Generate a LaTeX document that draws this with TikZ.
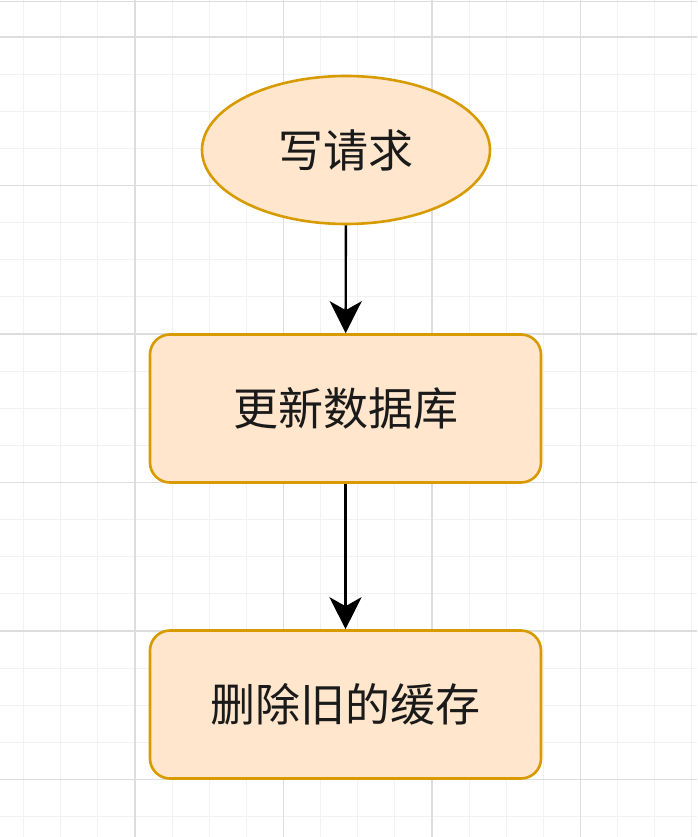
\documentclass[tikz,border=0pt]{standalone}
\usepackage{fontspec}
\newfontfamily\cjk{Noto Sans CJK SC}
\usetikzlibrary{shapes.geometric,arrows.meta}
\definecolor{boxfill}{HTML}{FFE6CC}
\definecolor{boxline}{HTML}{D79B00}
\definecolor{minorgrid}{HTML}{F2F2F2}
\definecolor{majorgrid}{HTML}{DDDDDD}
\definecolor{txt}{HTML}{1A1A1A}
\tikzset{
  flowtext/.style={font=\cjk\fontsize{45}{54}\selectfont, text=txt},
  startshape/.style={ellipse, draw=boxline, fill=boxfill, line width=2.6pt,
    minimum width=288pt, minimum height=148pt, inner sep=0pt, flowtext},
  stepbox/.style={rectangle, rounded corners=20pt, draw=boxline, fill=boxfill,
    line width=2.6pt, minimum width=391pt, minimum height=148pt, inner sep=0pt, flowtext},
  flowarrow/.style={line width=2.4pt, -{Stealth[length=32pt,width=32pt,inset=9pt]}}
}
\begin{document}
\begin{tikzpicture}[x=1pt,y=-1pt]
\useasboundingbox (0,0) rectangle (697,837);
% grid
\foreach \i in {-3,...,15} {
  \draw[minorgrid, line width=1pt] ({135+37.125*\i},0) -- ({135+37.125*\i},837);
}
\foreach \j in {-1,...,21} {
  \draw[minorgrid, line width=1pt] (0,{37+37.125*\j}) -- (697,{37+37.125*\j});
}
\foreach \i in {0,...,3} {
  \draw[majorgrid, line width=1.3pt] ({135+148.5*\i},0) -- ({135+148.5*\i},837);
}
\foreach \j in {0,...,5} {
  \draw[majorgrid, line width=1.3pt] (0,{37+148.5*\j}) -- (697,{37+148.5*\j});
}
\draw[majorgrid, line width=1pt] (0,2) -- (697,2);
% nodes
\node[startshape] (req) at (346,150) {写请求};
\node[stepbox] (db) at (345.5,408.5) {更新数据库};
\node[stepbox] (del) at (345.5,704.5) {删除旧的缓存};
% connectors
\draw[flowarrow] (req) -- (db);
\draw[flowarrow] (db) -- (del);
\end{tikzpicture}
\end{document}
